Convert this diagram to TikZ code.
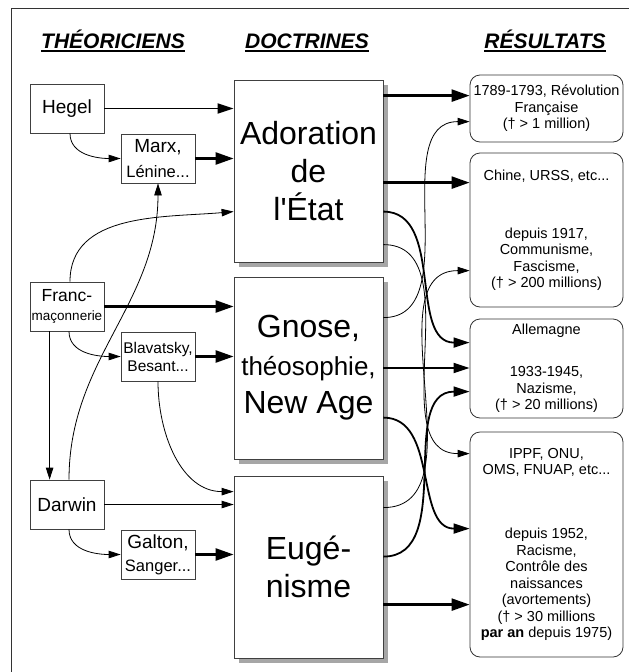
\documentclass[tikz,border=0pt]{standalone}
\usepackage{fontspec}
\setmainfont{Liberation Sans}
\usetikzlibrary{arrows.meta,calc,shadows}

\tikzset{
  theo/.style={draw=black!75, line width=0.8pt, fill=white, minimum width=74pt, minimum height=49pt, inner sep=0pt, align=center, font=\fontsize{19}{23}\selectfont},
  doct/.style={draw=black!75, line width=0.8pt, fill=white, minimum width=149pt, minimum height=182pt, inner sep=0pt, align=center, font=\fontsize{32}{38}\selectfont, general shadow={fill=black!35, shadow xshift=5pt, shadow yshift=-5pt}},
  resu/.style={draw=black!80, line width=0.8pt, rounded corners=10pt, minimum width=153pt, inner sep=0pt, align=center, font=\fontsize{14.5}{16.5}\selectfont},
  titre/.style={anchor=base, inner sep=0pt, font=\fontsize{21}{25}\selectfont\bfseries\itshape},
  heavy/.style={line width=2.4pt, -{Triangle[length=18pt,width=12pt]}},
  medium/.style={line width=1.8pt, -{Triangle[length=16pt,width=10pt]}},
  light/.style={line width=0.8pt, -{Triangle[length=12pt,width=7.5pt]}},
}

\begin{document}
\begin{tikzpicture}[x=1pt,y=-1pt]
\useasboundingbox (0,0) rectangle (629,672);
\draw[black!80, line width=0.8pt] (11,672) -- (11,8) -- (629,8);

\node[titre] (hTheo) at (113,48) {THÉORICIENS};
\node[titre] (hDoct) at (307,48) {DOCTRINES};
\node[titre] (hResu) at (545,48) {RÉSULTATS};
\foreach \h in {hTheo,hDoct,hResu}
  \draw[line width=1.5pt] ($(\h.base west)+(0,3)$) -- ($(\h.base east)+(0,3)$);

\node[theo] (hegel) at (67,108.5) {Hegel};
\node[theo] (marx) at (158,158.5) {Marx,\\[2pt]{\fontsize{16.5}{23}\selectfont Lénine...}};
\node[theo, font=\fontsize{17.5}{19}\selectfont] (franc) at (67,306.5) {Franc-\\{\fontsize{13.5}{19}\selectfont maçonnerie}};
\node[theo, font=\fontsize{15.5}{18}\selectfont] (blavatsky) at (158,356.5) {Blavatsky,\\Besant...};
\node[theo] (darwin) at (67,504.5) {Darwin};
\node[theo] (galton) at (158,554.5) {Galton,\\{\fontsize{16.5}{23}\selectfont Sanger...}};

\node[doct] (adoration) at (308.5,171) {Adoration\\de\\l\textquotesingle État};
\node[doct] (gnose) at (308.5,368) {Gnose,\\{\fontsize{26}{38}\selectfont théosophie,}\\New Age};
\node[doct] (eugenisme) at (308.5,567) {Eugé-\\nisme};

\node[resu, minimum height=67pt] (r1) at (546.5,108.5) {1789-1793, Révolution\\Française\\(† > 1 million)};
\node[resu, minimum height=154pt] (r2) at (546.5,230) {Chine, URSS, etc...\\[41.5pt]depuis 1917,\\Communisme,\\Fascisme,\\(† > 200 millions)};
\node[resu, minimum height=99pt] (r3) at (546.5,368.5) {Allemagne\\[25.5pt]1933-1945,\\Nazisme,\\(† > 20 millions)};
\node[resu, minimum height=225pt] (r4) at (546.5,544.5) {IPPF, ONU,\\OMS, FNUAP, etc...\\[47.5pt]depuis 1952,\\Racisme,\\Contrôle des\\naissances\\(avortements)\\(† > 30 millions\\\textbf{par an} depuis 1975)};

\draw[medium] (hegel.east) -- (hegel.east -| adoration.west);
\draw[light] ($(hegel.south)+(3,0)$) to[out=-90,in=180] (marx.west);
\draw[heavy] (marx.east) -- (marx.east -| adoration.west);
\draw[light] ($(franc.north)+(3,0)$) to[out=90,in=185] ($(adoration.north west)+(0,132)$);
\draw[light] ($(darwin.north)+(2,0)$) to[out=90,in=-90] (marx.south);
\draw[heavy] (franc.east) -- (franc.east -| gnose.west);
\draw[light] ($(franc.south)+(2,0)$) to[out=-90,in=180] (blavatsky.west);
\draw[heavy] (blavatsky.east) -- (blavatsky.east -| gnose.west);
\draw[light] ($(franc.south west)+(20,0)$) -- ($(darwin.north west)+(20,0)$);
\draw[light] (blavatsky.south) to[out=-90,in=180] ($(eugenisme.north west)+(0,16)$);
\draw[light] (darwin.east) -- (darwin.east -| eugenisme.west);
\draw[light] ($(darwin.south)+(2,0)$) to[out=-90,in=180] (galton.west);
\draw[heavy] (galton.east) -- (galton.east -| eugenisme.west);

\draw[heavy] ($(adoration.north east)+(0,16)$) -- ($(r1.north west)+(0,21)$);
\draw[heavy] ($(adoration.north east)+(0,103)$) -- ($(r2.north west)+(0,30)$);
\draw[medium] ($(adoration.north east)+(0,132)$) to[out=0,in=180] ($(r3.north west)+(0,24)$);
\draw[light] ($(adoration.north east)+(0,165)$) to[out=0,in=180] ($(r4.north west)+(0,22)$);
\draw[light] ($(gnose.north east)+(0,41)$) to[out=0,in=180] ($(r1.north west)+(0,47)$);
\draw[medium] (gnose.east) -- (gnose.east -| r3.west);
\draw[medium] ($(gnose.north east)+(0,141)$) to[out=0,in=180] ($(r4.north west)+(0,97)$);
\draw[light] ($(eugenisme.north east)+(0,32)$) to[out=0,in=180] ($(r2.north west)+(0,118)$);
\draw[medium] ($(eugenisme.north east)+(0,81)$) to[out=0,in=180] ($(r3.north west)+(0,73)$);
\draw[heavy] ($(eugenisme.north east)+(0,129)$) -- ($(r4.north west)+(0,173)$);
\end{tikzpicture}
\end{document}
